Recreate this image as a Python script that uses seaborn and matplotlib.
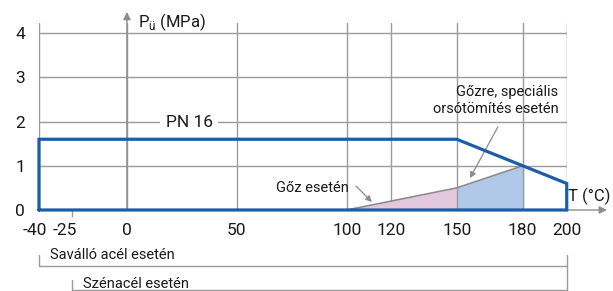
import matplotlib
matplotlib.use("Agg")
import matplotlib.pyplot as plt
import matplotlib.transforms as mtransforms
import seaborn as sns

# PN 16 nyomás-hőmérséklet határgörbe
env_T = [-40, -40, 150, 200, 200, -40]
env_P = [0, 1.6, 1.6, 0.6, 0, 0]

# gőz alkalmazási görbe
steam_T = [100, 150, 180]
steam_P = [0, 0.5, 1.0]

x_ticks = [-40, 0, 50, 100, 120, 150, 180, 200]
x_minor = [-25]
y_ticks = [0, 1, 2, 3, 4]

blue = "#1b5ea7"
grid_c = "#9b9b9b"
arrow_c = "#8c8c8c"
txt_c = "#1a1a1a"

sns.set_theme(style="white")
plt.rcParams["font.family"] = ["Roboto", "DejaVu Sans"]

fig = plt.figure(figsize=(6.13, 2.91), dpi=100)
ax = fig.add_axes([0.0636, 0.2784, 0.8609, 0.6426])
ax.set_xlim(-40, 200)
ax.set_ylim(0, 4.23)

# rács
ax.set_xticks(x_ticks)
ax.set_xticklabels([str(t) for t in x_ticks])
ax.set_xticks(x_minor, minor=True)
ax.set_xticklabels([str(t) for t in x_minor], minor=True)
ax.set_yticks(y_ticks)
ax.grid(True, which="major", color=grid_c, lw=1.0)
ax.tick_params(axis="both", which="major", length=0, labelsize=12.5, labelcolor=txt_c)
ax.tick_params(axis="x", which="major", pad=9.5)
ax.tick_params(axis="y", which="major", pad=10)
ax.tick_params(axis="x", which="minor", length=5, width=1, color=grid_c,
               pad=4.5, labelsize=12.5, labelcolor=txt_c, bottom=True)
for s in ax.spines.values():
    s.set_visible(False)

# a bal oldali címkék kicsit balra tolva
shifts = {"-40": -4.5, "-25": -7.5}
for lab in ax.get_xticklabels() + ax.get_xticklabels(minor=True):
    dx = shifts.get(lab.get_text())
    if dx:
        lab.set_transform(lab.get_transform() +
                          mtransforms.ScaledTranslation(dx / 100, 0, fig.dpi_scale_trans))

# kitöltések
ax.fill_between(steam_T[:2], steam_P[:2], color="#e2c7dd", lw=0, zorder=2)
ax.fill_between(steam_T[1:], steam_P[1:], color="#b2c8e8", lw=0, zorder=2)
sns.lineplot(x=steam_T, y=steam_P, sort=False, estimator=None, color=arrow_c,
             lw=1.2, ax=ax, zorder=3)
ax.vlines(steam_T[1:], 0, steam_P[1:], color=grid_c, lw=1.0, zorder=2.5)

# tengelyek nyilai
ax.annotate("", xy=(0, 4.48), xytext=(0, 0),
            arrowprops=dict(arrowstyle="-|>", color=arrow_c, lw=1.0,
                            mutation_scale=11, shrinkA=0, shrinkB=0),
            annotation_clip=False, zorder=1)
ax.annotate("", xy=(218.3, 0), xytext=(200, 0),
            arrowprops=dict(arrowstyle="-|>", color=arrow_c, lw=1.0,
                            mutation_scale=11, shrinkA=0, shrinkB=0),
            annotation_clip=False, zorder=1)

# határgörbe
sns.lineplot(x=env_T, y=env_P, sort=False, estimator=None, color=blue,
             lw=2.3, ax=ax, zorder=5)
for ln in ax.lines:
    ln.set_clip_on(False)
    ln.set_solid_joinstyle("miter")

# feliratok
ax.text(5, 4.26, "P$_{\\mathregular{ü}}$ (MPa)", fontsize=12, color=txt_c,
        ha="left", va="center")
ax.text(200.6, 0.3, "T (°C)", fontsize=12, color=txt_c, ha="left", va="center")
ax.text(28.4, 1.98, "PN 16", fontsize=12.5, color=txt_c, ha="center", va="center",
        bbox=dict(facecolor="white", edgecolor="none", pad=4), zorder=4)
ax.text(196.2, 2.47, "Gőzre, speciális\norsótömítés esetén", fontsize=10.5,
        color=txt_c, ha="right", va="center", linespacing=1.25, zorder=4)
ax.annotate("", xy=(156, 0.72), xytext=(168.7, 1.88),
            arrowprops=dict(arrowstyle="-|>", color=arrow_c, lw=0.9,
                            mutation_scale=9, shrinkA=0, shrinkB=0), zorder=4)
ax.text(101, 0.5, "Gőz esetén", fontsize=10.5, color=txt_c, ha="right", va="center")
ax.annotate("", xy=(111.4, 0.18), xytext=(104.2, 0.54),
            arrowprops=dict(arrowstyle="-|>", color=arrow_c, lw=0.9,
                            mutation_scale=9, shrinkA=0, shrinkB=0), zorder=4)

# anyagonkénti tartományok
ax.plot([-40, -40, 200], [-1.02, -1.27, -1.27], color=grid_c, lw=1.0, clip_on=False)
ax.plot([-25, -25, 200], [-1.58, -1.81, -1.81], color=grid_c, lw=1.0, clip_on=False)
ax.plot([200, 200], [-1.02, -1.81], color=grid_c, lw=1.0, clip_on=False)
ax.text(-35, -1.02, "Saválló acél esetén", fontsize=10.5, color=txt_c,
        ha="left", va="center")
ax.text(-20, -1.67, "Szénacél esetén", fontsize=10.5, color=txt_c,
        ha="left", va="center")

fig.savefig("out.png", dpi=100)
